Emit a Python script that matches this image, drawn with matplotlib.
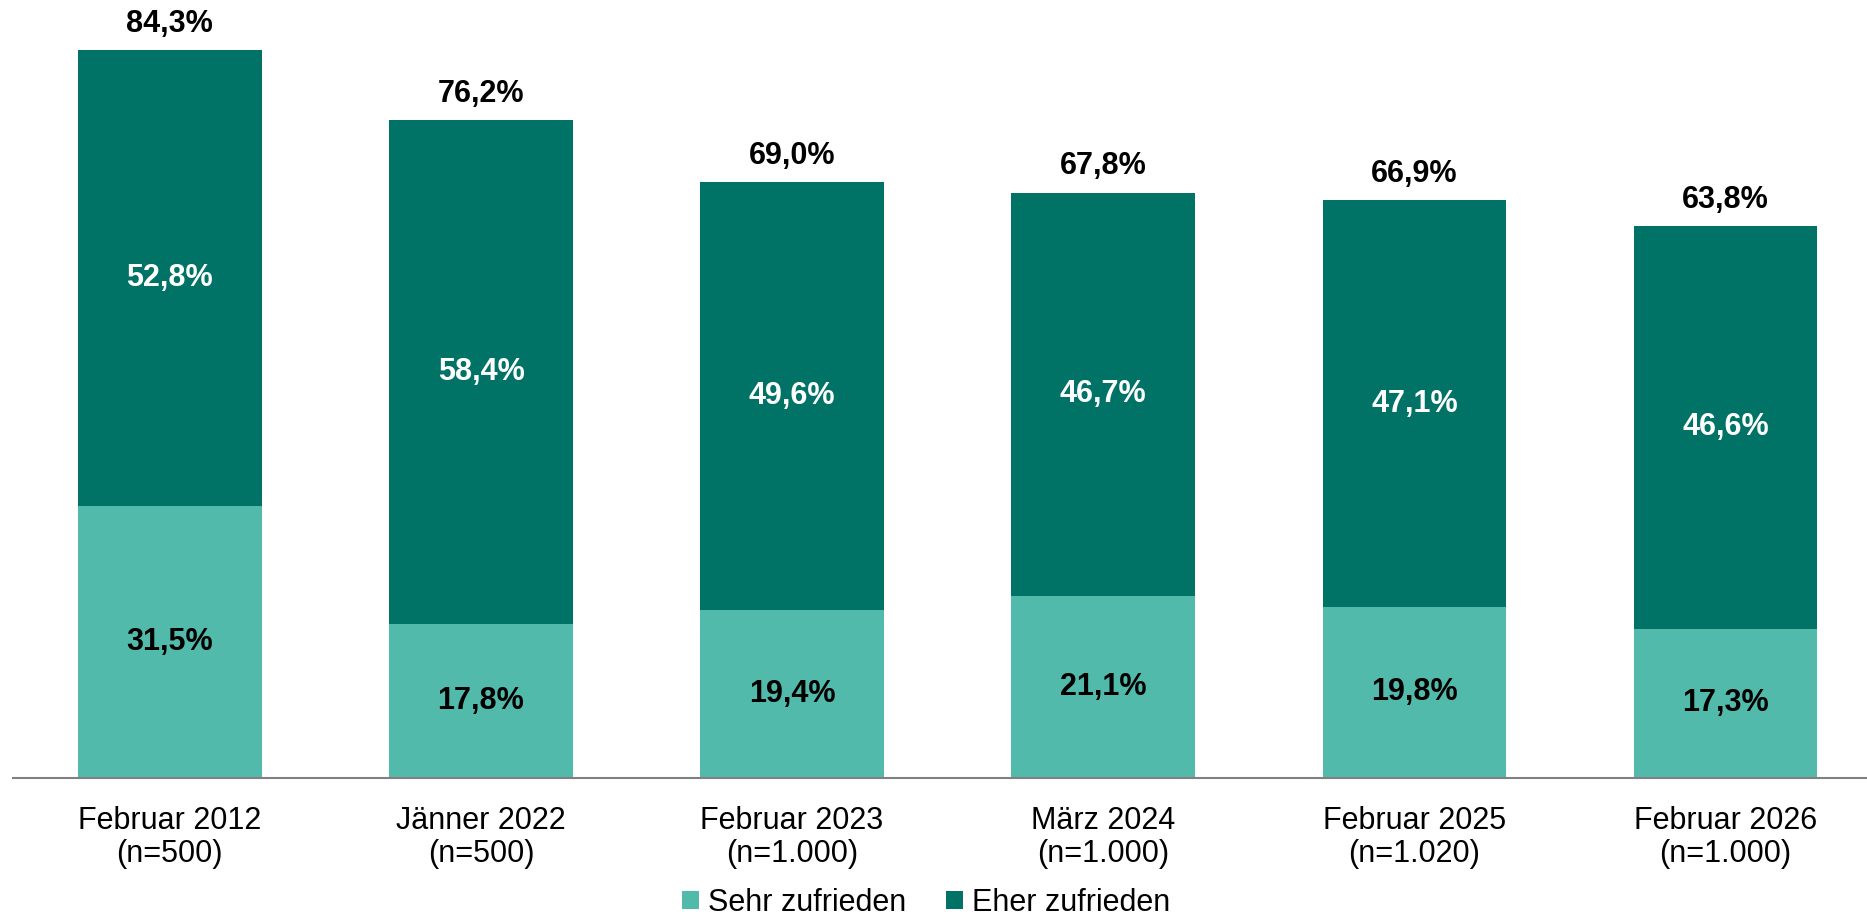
import matplotlib.pyplot as plt
import numpy as np

categories = ["Februar 2012\n(n=500)", "Jänner 2022\n(n=500)", "Februar 2023\n(n=1.000)",
              "März 2024\n(n=1.000)", "Februar 2025\n(n=1.020)", "Februar 2026\n(n=1.000)"]
sehr = [31.5, 17.8, 19.4, 21.1, 19.8, 17.3]
eher = [52.8, 58.4, 49.6, 46.7, 47.1, 46.6]
totals = [84.3, 76.2, 69.0, 67.8, 66.9, 63.8]

light = "#52BAAB"
dark = "#007366"

plt.rcParams['font.family'] = ['Liberation Sans', 'DejaVu Sans']

fig = plt.figure(figsize=(18.67, 9.21), dpi=100)
ax = fig.add_axes([0.0, 0.1553, 1.0, 0.8447])

x = np.arange(len(categories))
w = 0.59
ax.bar(x, sehr, w, color=light, label="Sehr zufrieden")
ax.bar(x, eher, w, bottom=sehr, color=dark, label="Eher zufrieden")

def fmt(v):
    return f"{v:.1f}%".replace(".", ",")

for i in range(len(x)):
    ax.text(x[i], sehr[i] / 2, fmt(sehr[i]), ha="center", va="center",
            fontsize=22, fontweight="bold", color="black")
    ax.text(x[i], sehr[i] + eher[i] / 2, fmt(eher[i]), ha="center", va="center",
            fontsize=22, fontweight="bold", color="white")
    ax.annotate(fmt(totals[i]), (x[i], sehr[i] + eher[i]), xytext=(0, 19),
                textcoords="offset points", ha="center", va="center",
                fontsize=22, fontweight="bold", color="black")

ax.set_xlim(-0.546, 5.455)
ax.set_ylim(0, 90.1)
ax.set_xticks(x)
ax.set_xticklabels(categories, fontsize=22, linespacing=1.15)
ax.tick_params(axis="x", length=0, pad=20)
ax.set_yticks([])
for s in ["top", "right", "left"]:
    ax.spines[s].set_visible(False)
ax.spines["bottom"].set_color("#808080")
ax.spines["bottom"].set_linewidth(1.5)
ax.spines["bottom"].set_bounds(-0.505, 5.455)

fig.legend(loc="center", bbox_to_anchor=(0.496, 0.02), ncol=2, frameon=False,
           fontsize=22, handlelength=0.55, handleheight=0.55, handletextpad=0.3,
           columnspacing=1.3, borderpad=0.1)

fig.savefig("out.png", dpi=100)
